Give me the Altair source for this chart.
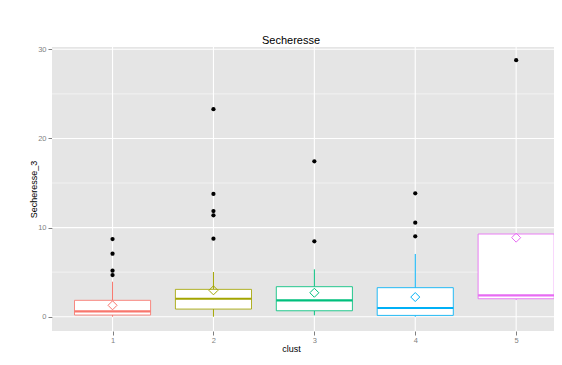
import altair as alt
import pandas as pd

# ---- data ----
clusters = [1, 2, 3, 4, 5]
whisk_lo = [0.0, 0.0, 0.15, 0.0, 1.87]
q1 = [0.19, 0.86, 0.67, 0.15, 2.02]
median = [0.60, 2.02, 1.84, 0.98, 2.40]
q3 = [1.84, 3.07, 3.37, 3.26, 9.28]
whisk_hi = [3.93, 5.02, 5.32, 7.04, 9.28]
means = [1.28, 2.96, 2.69, 2.21, 8.87]

outlier_cluster = [1, 1, 1, 1, 2, 2, 2, 2, 2, 3, 3, 4, 4, 4, 5]
outlier_value = [8.72, 7.07, 5.16, 4.68,
                 23.28, 13.77, 11.86, 11.38, 8.75,
                 17.44, 8.46,
                 13.85, 10.55, 9.02,
                 28.78]

y_major = [0, 10, 20, 30]
y_minor = [5, 15, 25]
hues = ["#F8766D", "#A3A500", "#00BF7D", "#00B0F6", "#E76BF3"]

FONT = "Liberation Sans"
GREY = "#7F7F7F"

box_df = pd.DataFrame({
    "cluster": clusters, "lo": whisk_lo, "q1": q1, "median": median,
    "q3": q3, "hi": whisk_hi, "mean": means,
})
out_df = pd.DataFrame({"cluster": outlier_cluster, "value": outlier_value})

xscale = alt.Scale(domain=[0.4, 5.375], nice=False, zero=False)
yscale = alt.Scale(domain=[-1.6, 30.26], nice=False, zero=False)

xaxis = alt.Axis(
    title="clust", values=clusters, format="d", grid=False, domain=False,
    tickSize=4, tickColor=GREY, labelColor=GREY, labelFont=FONT,
    labelFontSize=7.5, labelPadding=1, titleFont=FONT, titleFontSize=9,
    titleFontWeight="normal", titleColor="black", titleX=239, titleY=20,
    titleBaseline="alphabetic", titleAlign="center",
)
yaxis = alt.Axis(
    title="Secheresse_3", values=y_major, format="d", grid=False, domain=False,
    tickSize=4, tickColor=GREY, labelColor=GREY, labelFont=FONT,
    labelFontSize=7.5, labelPadding=2, titleFont=FONT, titleFontSize=9,
    titleFontWeight="normal", titleColor="black", titleAngle=270,
    titleX=-19, titleY=142, titleBaseline="middle", titleAlign="center",
)

color = alt.Stroke("cluster:N", scale=alt.Scale(domain=clusters, range=hues), legend=None)

minor = alt.Chart(pd.DataFrame({"v": y_minor})).mark_rule(
    color="#F2F2F2", strokeWidth=1
).encode(y=alt.Y("v:Q", scale=yscale, axis=yaxis))

major = alt.Chart(pd.DataFrame({"v": y_major})).mark_rule(
    color="white", strokeWidth=1.1
).encode(y=alt.Y("v:Q", scale=yscale, axis=yaxis))

xgrid = alt.Chart(pd.DataFrame({"c": clusters})).mark_rule(
    color="white", strokeWidth=1.1
).encode(x=alt.X("c:Q", scale=xscale, axis=xaxis))

base = alt.Chart(box_df)

whisk_low = base.mark_rule(strokeWidth=1).encode(
    x=alt.X("cluster:Q", scale=xscale, axis=xaxis),
    y=alt.Y("lo:Q", scale=yscale, axis=yaxis), y2="q1:Q", stroke=color,
)
whisk_high = base.mark_rule(strokeWidth=1).encode(
    x=alt.X("cluster:Q", scale=xscale, axis=xaxis),
    y=alt.Y("q3:Q", scale=yscale, axis=yaxis), y2="hi:Q", stroke=color,
)
boxes = base.transform_calculate(
    xlo="datum.cluster - 0.377", xhi="datum.cluster + 0.377"
).mark_rect(fill="white", strokeWidth=1, strokeOpacity=0.85).encode(
    x=alt.X("xlo:Q", scale=xscale, axis=xaxis), x2="xhi:Q",
    y=alt.Y("q1:Q", scale=yscale, axis=yaxis), y2="q3:Q", stroke=color,
)
medians = base.transform_calculate(
    xlo="datum.cluster - 0.377", xhi="datum.cluster + 0.377"
).mark_rule(strokeWidth=2.2).encode(
    x=alt.X("xlo:Q", scale=xscale, axis=xaxis), x2="xhi:Q",
    y=alt.Y("median:Q", scale=yscale, axis=yaxis), stroke=color,
)
outliers = alt.Chart(out_df).mark_circle(size=18, color="black", opacity=1).encode(
    x=alt.X("cluster:Q", scale=xscale, axis=xaxis),
    y=alt.Y("value:Q", scale=yscale, axis=yaxis),
)
mean_pts = base.mark_point(shape="diamond", size=81, filled=False, strokeWidth=1, opacity=1).encode(
    x=alt.X("cluster:Q", scale=xscale, axis=xaxis),
    y=alt.Y("mean:Q", scale=yscale, axis=yaxis), stroke=color,
)

chart = alt.layer(
    minor, major, xgrid, whisk_low, whisk_high, boxes, medians, outliers, mean_pts
).properties(
    width=502, height=284,
    title=alt.TitleParams("Secheresse", font=FONT, fontSize=11, fontWeight="normal",
                          color="black", anchor="middle", dx=-12, dy=3, offset=2),
    autosize=alt.AutoSizeParams(type="none"),
    padding={"left": 44, "top": 39, "right": 0, "bottom": 25},
).configure_view(fill="#E5E5E5", stroke=None)

chart.save("out.html", embed_options={"renderer": "svg", "actions": False})
